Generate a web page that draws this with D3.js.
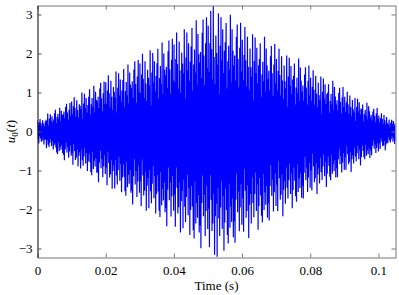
<!DOCTYPE html>
<html><head><meta charset="utf-8">
<script src="https://cdn.jsdelivr.net/npm/d3@7"></script>
<style>body{margin:0;background:#fff}svg{display:block}text{font-family:'Liberation Serif','Times New Roman',serif}</style>
</head><body>
<svg id="c" width="399" height="295"></svg>
<script>
const tMax = 0.105;
const xTicks = [0, 0.02, 0.04, 0.06, 0.08, 0.1];
const xTickLabels = ["0", "0.02", "0.04", "0.06", "0.08", "0.1"];
const yTicks = [-3, -2, -1, 0, 1, 2, 3];
const yTickLabels = ["\u22123", "\u22122", "\u22121", "0", "1", "2", "3"];
const u0 = [
.28,-.20,.16,-.31,.23,-.12,.32,-.18,.22,-.26,.14,-.24,.29,-.17,.20,-.33,.13,-.22,.25,-.19,
.30,-.43,.26,-.22,.46,-.34,.14,-.40,.33,-.29,.44,-.19,.27,-.37,.39,-.25,.23,-.46,.31,-.35,
.47,-.30,.56,-.41,.22,-.54,.37,-.58,.45,-.27,.32,-.50,.61,-.39,.25,-.47,.53,-.35,.42,-.55,
.44,-.60,.51,-.74,.34,-.46,.63,-.28,.71,-.54,.49,-.40,.30,-.67,.56,-.51,.73,-.35,.40,-.62,
.77,-.56,.44,-.85,.65,-.32,.88,-.50,.60,-.73,.38,-.67,.80,-.46,.55,-.90,.35,-.62,.70,-.53,
.66,-.95,.57,-.47,1.00,-.74,.32,-.88,.72,-.64,.97,-.42,.60,-.82,.86,-.55,.49,-1.01,.68,-.77,
.89,-.57,1.08,-.79,.43,-1.04,.70,-1.12,.86,-.52,.62,-.96,1.17,-.75,.49,-.90,1.02,-.67,.81,-1.06,
.77,-1.05,.89,-1.30,.60,-.80,1.10,-.49,1.25,-.94,.85,-.70,.52,-1.17,.98,-.89,1.28,-.61,.70,-1.09,
1.26,-.92,.71,-1.38,1.05,-.52,1.44,-.81,.98,-1.18,.62,-1.10,1.30,-.74,.89,-1.47,.56,-1.01,1.14,-.86,
1.02,-1.46,.87,-.73,1.54,-1.13,.49,-1.36,1.12,-.99,1.49,-.65,.92,-1.26,1.33,-.84,.76,-1.56,1.05,-1.18,
1.32,-.84,1.60,-1.16,.63,-1.53,1.04,-1.65,1.27,-.77,.92,-1.43,1.72,-1.11,.72,-1.34,1.51,-.99,1.20,-1.57,
1.11,-1.51,1.28,-1.87,.86,-1.15,1.59,-.71,1.80,-1.36,1.22,-1.01,.74,-1.68,1.41,-1.28,1.83,-.88,1.01,-1.57,
1.74,-1.27,.98,-1.91,1.46,-.72,1.99,-1.13,1.35,-1.64,.86,-1.52,1.80,-1.03,1.23,-2.03,.78,-1.39,1.58,-1.19,
1.38,-1.97,1.18,-.99,2.08,-1.53,.66,-1.84,1.51,-1.34,2.01,-.88,1.25,-1.71,1.80,-1.14,1.03,-2.10,1.42,-1.60,
1.75,-1.12,2.12,-1.54,.84,-2.03,1.37,-2.19,1.68,-1.03,1.21,-1.89,2.28,-1.47,.96,-1.77,2.00,-1.30,1.58,-2.07,
1.44,-1.96,1.66,-2.43,1.12,-1.49,2.06,-.92,2.33,-1.76,1.59,-1.31,.97,-2.18,1.84,-1.66,2.38,-1.14,1.31,-2.03,
2.23,-1.62,1.26,-2.44,1.86,-.92,2.54,-1.44,1.73,-2.10,1.10,-1.94,2.31,-1.31,1.57,-2.59,1.00,-1.78,2.02,-1.52,
1.74,-2.48,1.49,-1.24,2.62,-1.93,.83,-2.32,1.90,-1.68,2.54,-1.10,1.57,-2.15,2.26,-1.44,1.30,-2.65,1.79,-2.01,
2.18,-1.40,2.65,-1.92,1.05,-2.53,1.72,-2.74,2.10,-1.28,1.51,-2.36,2.85,-1.83,1.19,-2.21,2.50,-1.63,1.98,-2.59,
1.77,-2.41,2.04,-2.99,1.37,-1.83,2.53,-1.13,2.87,-2.17,1.95,-1.62,1.19,-2.68,2.26,-2.04,2.93,-1.40,1.62,-2.50,
2.71,-1.98,1.53,-2.97,2.26,-1.12,3.09,-1.75,2.11,-2.55,1.34,-2.36,3.22,-1.60,1.91,-3.16,1.21,-2.17,2.46,-1.85,
2.01,-3.21,1.72,-1.44,3.03,-2.23,.96,-2.68,2.20,-1.95,2.93,-1.28,1.82,-2.49,2.62,-1.66,1.50,-3.06,2.07,-2.33,
2.29,-1.46,2.78,-2.01,1.10,-2.65,1.80,-2.87,2.20,-1.34,1.59,-2.47,2.99,-1.92,1.25,-2.32,2.62,-1.71,2.07,-2.71,
1.69,-2.30,1.95,-2.85,1.31,-1.75,2.42,-1.08,2.74,-2.07,1.86,-1.54,1.13,-2.56,2.15,-1.95,2.79,-1.34,1.54,-2.39,
2.35,-1.71,1.32,-2.57,1.96,-.97,2.68,-1.52,1.82,-2.21,1.16,-2.04,2.43,-1.38,1.66,-2.73,1.05,-1.88,2.13,-1.60,
1.65,-2.36,1.41,-1.18,2.49,-1.83,.79,-2.20,1.81,-1.60,2.41,-1.05,1.49,-2.04,2.15,-1.36,1.23,-2.52,1.70,-1.91,
1.86,-1.19,2.26,-1.64,.89,-2.16,1.46,-2.33,1.79,-1.09,1.29,-2.01,2.43,-1.56,1.02,-1.88,2.13,-1.39,1.69,-2.21,
1.35,-1.84,1.56,-2.28,1.05,-1.40,1.93,-.86,2.19,-1.65,1.49,-1.23,.91,-2.05,1.72,-1.56,2.24,-1.07,1.23,-1.91,
1.86,-1.36,1.05,-2.04,1.55,-.77,2.12,-1.20,1.45,-1.75,.92,-1.62,1.93,-1.10,1.31,-2.17,.83,-1.49,1.69,-1.27,
1.29,-1.85,1.11,-.92,1.95,-1.44,.62,-1.72,1.41,-1.25,1.89,-.82,1.17,-1.60,1.68,-1.07,.96,-1.97,1.33,-1.50,
1.43,-.92,1.74,-1.26,.69,-1.66,1.13,-1.80,1.38,-.84,.99,-1.55,1.87,-1.20,.78,-1.45,1.64,-1.07,1.30,-1.70,
1.02,-1.39,1.18,-1.72,.79,-1.06,1.46,-.65,1.65,-1.25,1.13,-.93,.69,-1.55,1.30,-1.18,1.69,-.81,.93,-1.44,
1.38,-1.00,.78,-1.51,1.15,-.57,1.57,-.89,1.07,-1.30,.68,-1.20,1.43,-.81,.97,-1.60,.62,-1.10,1.25,-.94,
.93,-1.33,.80,-.67,1.41,-1.04,.44,-1.24,1.02,-.90,1.36,-.59,.84,-1.15,1.21,-.77,.70,-1.42,.96,-1.08,
1.00,-.64,1.21,-.88,.48,-1.16,.78,-1.25,.96,-.59,.69,-1.08,1.30,-.84,.55,-1.01,1.14,-.74,.90,-1.18,
.69,-.94,.80,-1.17,.54,-.71,.99,-.44,1.12,-.84,.76,-.63,.46,-1.05,.88,-.80,1.14,-.55,.63,-.98,
.89,-.65,.50,-.98,.75,-.37,1.02,-.58,.69,-.84,.44,-.78,.92,-.53,.63,-1.04,.40,-.71,.81,-.61,
.57,-.82,.49,-.41,.86,-.64,.27,-.76,.63,-.56,.84,-.36,.52,-.71,.75,-.47,.43,-.87,.59,-.66,
.57,-.36,.69,-.50,.27,-.66,.45,-.71,.55,-.33,.40,-.62,.74,-.48,.31,-.58,.65,-.43,.52,-.68,
.36,-.49,.42,-.61,.28,-.37,.51,-.23,.58,-.44,.40,-.33,.24,-.55,.46,-.42,.60,-.29,.33,-.51,
.41,-.30,.23,-.45,.34,-.17,.47,-.26,.32,-.38,.20,-.36,.42,-.24,.29,-.48,.18,-.33,.37,-.28,
.21,-.30,.18,-.15,.31,-.23,.10,-.28,.23,-.20,.30,-.13,.19,-.26,.27,-.17,.16,-.32,.21,-.24
];

const L = 37.5, R = 395.5, T = 5.5, B = 257.5;
const svg = d3.select("#c");
const x = d3.scaleLinear().domain([0, tMax]).range([L, R]);
const y = d3.scaleLinear().domain([-3.23, 3.23]).range([B, T]);
const dt = tMax / (u0.length - 1);

svg.append("defs").append("clipPath").attr("id","clp")
  .append("rect").attr("x",L).attr("y",T).attr("width",R-L).attr("height",B-T);

svg.append("path")
  .datum(u0)
  .attr("clip-path","url(#clp)")
  .attr("fill","none")
  .attr("stroke","#0000ff")
  .attr("stroke-width",1.2)
  .attr("stroke-linejoin","bevel")
  .attr("d", d3.line().x((d,i)=>x(i*dt)).y(d=>y(d)));

const fs = 13;
// bottom axis
const xb = svg.append("g").attr("transform",`translate(0,${B})`)
  .call(d3.axisBottom(x).tickValues(xTicks).tickSizeInner(-4).tickSizeOuter(0)
    .tickFormat((d,i)=>xTickLabels[i]));
xb.attr("font-family",null).attr("font-size",null);
xb.select(".domain").attr("stroke","#777");
xb.selectAll(".tick line").attr("stroke","#777");
xb.selectAll("text").attr("font-size",fs).attr("fill","#000").attr("dy","1.15em");
// top axis
const xt = svg.append("g").attr("transform",`translate(0,${T})`)
  .call(d3.axisTop(x).tickValues(xTicks).tickSizeInner(-4).tickSizeOuter(0).tickFormat(""));
xt.select(".domain").attr("stroke","#777");
xt.selectAll(".tick line").attr("stroke","#777");
// right axis
const yr = svg.append("g").attr("transform",`translate(${R},0)`)
  .call(d3.axisRight(y).tickValues(yTicks).tickSizeInner(-4).tickSizeOuter(0).tickFormat(""));
yr.select(".domain").attr("stroke","#777");
yr.selectAll(".tick line").attr("stroke","#777");
// left axis
const yl = svg.append("g").attr("transform",`translate(${L},0)`)
  .call(d3.axisLeft(y).tickValues(yTicks).tickSizeInner(-4).tickSizeOuter(0)
    .tickFormat((d,i)=>yTickLabels[i]));
yl.attr("font-family",null).attr("font-size",null);
yl.select(".domain").attr("stroke","#000");
yl.selectAll(".tick line").attr("stroke","#555");
yl.selectAll("text").attr("font-size",fs).attr("fill","#000").attr("x",-5);

// labels
svg.append("text").attr("x",(L+R)/2).attr("y",290).attr("text-anchor","middle")
  .attr("font-size",fs).text("Time (s)");
const yt = svg.append("text").attr("transform",`translate(15,${(T+B)/2}) rotate(-90)`)
  .attr("text-anchor","middle").attr("font-size",fs);
yt.append("tspan").attr("font-style","italic").text("u");
yt.append("tspan").attr("font-size",9).attr("dy",3).text("0");
yt.append("tspan").attr("dy",-3).text("(");
yt.append("tspan").attr("font-style","italic").text("t");
yt.append("tspan").text(")");
</script>
</body></html>
